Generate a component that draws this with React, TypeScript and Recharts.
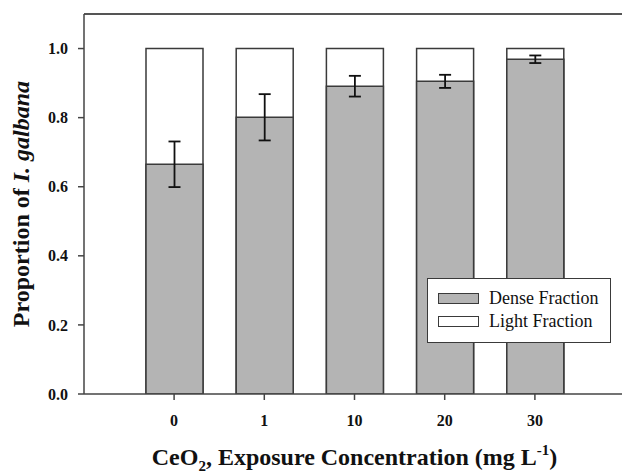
import { BarChart, Bar, XAxis, YAxis, ErrorBar, Legend, ReferenceLine, Label } from "recharts";

const FONT = '"Liberation Serif", "Times New Roman", serif';
const C = { dense: "#b4b4b4", light: "#ffffff", edge: "#3a3a3a", axis: "#444444", err: "#111111", text: "#111111" };

const concentrations = ["0", "1", "10", "20", "30"];
const denseFraction = [0.665, 0.801, 0.891, 0.905, 0.969];
const denseError = [0.066, 0.067, 0.030, 0.019, 0.011];
const lightFraction = [0.335, 0.199, 0.109, 0.095, 0.031];
const yTicks = [0, 0.2, 0.4, 0.6, 0.8, 1.0];
const legendOrder = ["Dense Fraction", "Light Fraction"];

const data = concentrations.map((c, i) => ({
  conc: c,
  dense: denseFraction[i],
  err: denseError[i],
  // white bar drawn behind: dense + light stacked height
  total: denseFraction[i] + lightFraction[i],
}));

function LegendBox({ payload }: any) {
  const items = [...(payload || [])].sort((a, b) => legendOrder.indexOf(a.value) - legendOrder.indexOf(b.value));
  return (
    <div style={{ boxSizing: "border-box", width: 184, height: 65, border: `1.5px solid ${C.edge}`, background: "#fff", padding: "10px 0 0 10px", display: "flex", flexDirection: "column", gap: 5 }}>
      {items.map((it: any) => (
        <div key={it.value} style={{ display: "flex", alignItems: "center", height: 18 }}>
          <span style={{ boxSizing: "border-box", width: 41, height: 11, background: it.value === "Dense Fraction" ? C.dense : C.light, border: `1.5px solid ${C.edge}`, marginRight: 10 }} />
          <span style={{ fontFamily: FONT, fontSize: 18, color: C.text, lineHeight: "18px" }}>{it.value}</span>
        </div>
      ))}
    </div>
  );
}

export default function App() {
  const tick = { fontFamily: FONT, fontSize: 16, fontWeight: "bold", fill: C.text };
  return (
    <div style={{ width: 622, height: 473, overflow: "hidden", background: "#fff", position: "relative" }}>
      <style>{`html, body { margin: 0; padding: 0; overflow: hidden; }`}</style>
      <BarChart width={640} height={473} data={data} margin={{ top: 14, right: 15, bottom: 0, left: 0 }}>
        <XAxis dataKey="conc" xAxisId="back" hide padding={{ left: 45, right: 45 }} />
        <XAxis
          dataKey="conc"
          padding={{ left: 45, right: 45 }}
          height={79}
          tickSize={6}
          tickMargin={15}
          tick={tick}
          stroke={C.axis}
          strokeWidth={1.5}
        >
          <Label
            content={({ viewBox }: any) => {
              const cx = viewBox.x + viewBox.width / 2;
              return (
                <text x={cx} y={viewBox.y + 71} textAnchor="middle" fontFamily={FONT} fontSize={24} fontWeight="bold" fill={C.text}>
                  CeO<tspan fontSize={15} dy={6}>2</tspan>
                  <tspan dy={-6}>, Exposure Concentration (mg L</tspan>
                  <tspan fontSize={15} dy={-10}>-1</tspan>
                  <tspan dy={10}>)</tspan>
                </text>
              );
            }}
          />
        </XAxis>
        <YAxis
          width={84}
          domain={[0, 1.1]}
          ticks={yTicks}
          tickFormatter={(v: number) => v.toFixed(1)}
          tickSize={6}
          tickMargin={10}
          tick={tick}
          stroke={C.axis}
          strokeWidth={1.5}
          allowDataOverflow
        >
          <Label
            content={({ viewBox }: any) => {
              const x = viewBox.x + 29;
              const y = viewBox.y + viewBox.height / 2;
              return (
                <text x={x} y={y} transform={`rotate(-90 ${x} ${y})`} textAnchor="middle" fontFamily={FONT} fontSize={24} fontWeight="bold" fill={C.text}>
                  Proportion of <tspan fontStyle="italic">I. galbana</tspan>
                </text>
              );
            }}
          />
        </YAxis>
        <ReferenceLine y={1.1} stroke="#555" strokeWidth={2} />
        <Bar dataKey="total" name="Light Fraction" xAxisId="back" fill={C.light} stroke={C.edge} strokeWidth={1.5} barSize={57} isAnimationActive={false} />
        <Bar dataKey="dense" name="Dense Fraction" fill={C.dense} stroke={C.edge} strokeWidth={1.5} barSize={57} isAnimationActive={false}>
          <ErrorBar dataKey="err" width={6} stroke={C.err} strokeWidth={1.8} direction="y" />
        </Bar>
        <Legend
          layout="horizontal"
          verticalAlign="middle"
          align="center"
          content={<LegendBox />}
          wrapperStyle={{ left: 427, top: 278, width: 184, height: 65 }}
        />
      </BarChart>
    </div>
  );
}
